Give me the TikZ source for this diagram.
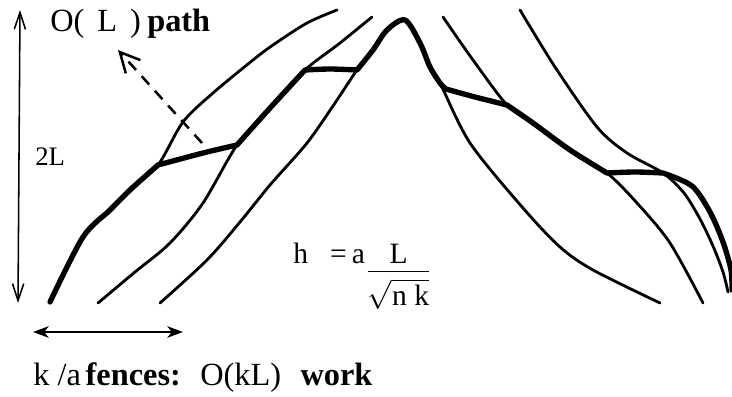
\documentclass[tikz,border=0pt]{standalone}
\usepackage{fontspec}
\setmainfont{Liberation Serif}
\usetikzlibrary{arrows.meta}

\begin{document}
\begin{tikzpicture}[x=0.025cm,y=-0.025cm,
  fence/.style={line width=2pt,line cap=round,line join=round},
  route/.style={line width=3.8pt,line cap=round,line join=round},
  arr/.style={line width=1.1pt,{Straight Barb[length=12pt,width=8pt]}-{Straight Barb[length=12pt,width=8pt]}},
  lbl/.style={inner sep=0pt,anchor=base west,font=\fontsize{23}{27}\selectfont}]
  \useasboundingbox (0,0) rectangle (732,396);
  % where the path jumps from one fence to the next
  \coordinate (ja) at (158,165);
  \coordinate (jb) at (237,145);
  \coordinate (jb2) at (305,70);
  \coordinate (jc) at (357,70);
  \coordinate (pk) at (405,20);
  \coordinate (jc2) at (446,89);
  \coordinate (jd) at (507,105);
  \coordinate (jd2) at (607,173);
  \coordinate (je) at (663,173);
  % fences
  \draw[fence] plot[smooth] coordinates {(50,302) (83,237) (110,210) (130,190) (ja) (183,122) (213,93) (253,60) (273,45) (307,23) (337,10)};
  \draw[fence] plot[smooth] coordinates {(98,303) (135,272) (170,243) (203,203) (jb) (270,108) (jb2) (340,43) (372,17)};
  \draw[fence] plot[smooth] coordinates {(160,303) (207,260) (240,222) (270,185) (307,143) (335,103) (jc) (373,50) (387,30) (pk) (420,43) (430,67) (440,83) (470,143) (523,208) (560,247) (593,270) (660,303)};
  \draw[fence] plot[smooth] coordinates {(443,17) (473,60) (jd) (533,123) (570,150) (jd2) (637,203) (670,243) (703,303)};
  \draw[fence] plot[smooth] coordinates {(520,10) (555,67) (597,127) (627,153) (je) (684,193) (700,219) (713,246) (723,272) (728,292)};
  % the O(L) path
  \draw[route] plot[smooth] coordinates {(50,302) (83,237) (110,210) (130,190) (ja)}
    -- plot[smooth] coordinates {(ja) (203,153) (jb)}
    -- plot[smooth] coordinates {(jb) (270,108) (jb2)}
    -- plot[smooth] coordinates {(jb2) (330,69) (jc)}
    -- plot[smooth] coordinates {(jc) (373,50) (387,30) (pk) (420,43) (430,67) (440,83) (jc2)}
    -- plot[smooth] coordinates {(jc2) (475,97) (jd)}
    -- plot[smooth] coordinates {(jd) (533,123) (570,150) (jd2)}
    -- plot[smooth] coordinates {(jd2) (635,172) (je)}
    -- plot[smooth] coordinates {(je) (692,186) (710,212) (723,242) (731,270) (732,290)};
  % arrows
  \coordinate (vtop) at (20,10);
  \coordinate (vbot) at (18,303);
  \coordinate (wl) at (33,332);
  \coordinate (wr) at (183,332);
  \coordinate (dfrom) at (202,143);
  \coordinate (dto) at (118,50);
  \draw[arr] (vbot) -- (vtop);
  \draw[line width=2pt,{Stealth[length=11pt,width=8pt,inset=3pt]}-{Stealth[length=11pt,width=8pt,inset=3pt]}] (wl) -- (wr);
  \draw[line width=1.8pt,dash pattern=on 8pt off 6pt,-{Straight Barb[length=14pt,width=14pt]}] (dfrom) -- (dto);
  % labels
  \node[lbl] (title) at (50,31) {O(\hspace{0.4em}L\hspace{0.4em})\hspace{0.2em}\textbf{path}};
  \node[lbl,font=\fontsize{19}{23}\selectfont] (height) at (35,165) {2L};
  \node[lbl,font=\fontsize{21}{20}\selectfont] (hform) at (293,263) {h\hspace{0.75em}=\hspace{0.17em}a\hspace{0.1em}\begin{tabular}[t]{@{}c@{}}L\\\hline\rule{0pt}{24pt}$\sqrt{\hbox{n k}}$\end{tabular}};
  \node[lbl] (work) at (33,385) {k\hspace{0.25em}/a\hspace{0.15em}\textbf{fences:}\hspace{0.6em}O(kL)\hspace{0.6em}\textbf{work}};
\end{tikzpicture}
\end{document}
